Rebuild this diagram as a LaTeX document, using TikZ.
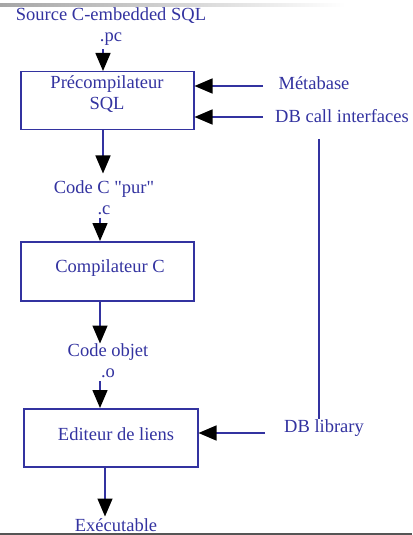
\documentclass[tikz,border=0pt]{standalone}
\usepackage{fontspec}
\setmainfont{Liberation Serif}[Ligatures=TeXOff]
\usetikzlibrary{arrows.meta}
\definecolor{ink}{RGB}{51,51,160}
\definecolor{rule}{RGB}{85,85,85}
\begin{document}
\begin{tikzpicture}[x=1bp,y=-1bp,
  txt/.style={text=ink,font=\fontsize{18.5bp}{21bp}\selectfont,inner sep=0pt,align=center},
  blk/.style={draw=ink,line width=1.5bp,minimum width=173bp,minimum height=58bp,inner sep=0pt,anchor=north west},
  arr/.style={draw=ink,line width=1.5bp,-{Triangle[length=18bp,width=15bp,color=black,fill=black]}},
  wire/.style={draw=ink,line width=1.5bp}]
\useasboundingbox (0,0) rectangle (412,535);

% slide decoration: fading top bar and bottom rule
\shade[left color=black!35,right color=white] (0,3.5) rectangle (345,6.5);
\draw[rule,line width=1.5bp] (0,534) -- (412,534);

% processing steps
\node[blk] (pre) at (20,71) {};
\node[blk,minimum height=59bp] (cc) at (20,241) {};
\node[blk,minimum width=174bp] (ld) at (23,408) {};
\node[txt] (preT) at (107,94.5) {Précompilateur\\SQL};
\node[txt] (ccT) at (110,268) {Compilateur C};
\node[txt] (ldT) at (116,434) {Editeur de liens};

% intermediate files
\node[txt] (src) at (111,27) {Source C-embedded SQL\\.pc};
\node[txt] (csrc) at (104,197.5) {Code C "pur"\\.c};
\node[txt] (obj) at (108,361) {Code objet\\.o};
\node[txt] (exe) at (116,525) {Exécutable};

% external inputs
\node[txt] (meta) at (314,83) {Métabase};
\node[txt] (dbci) at (342,116) {DB call interfaces};
\node[txt] (dblib) at (324,428) {DB library};

% x positions of the main flow and of the library bracket
\coordinate (c1) at (103,0);
\coordinate (c2) at (100,0);
\coordinate (c3) at (105,0);
\coordinate (vx) at (319,0);
\coordinate (e1) at (263,86);
\coordinate (e2) at (263,117);
\coordinate (e3) at (265,433);

\draw[arr] (src.south -| c1) ++(0,3) -- (pre.north -| c1);
\draw[arr] (pre.south -| c1) -- ++(0,43);
\draw[arr] (csrc.south -| c2) ++(0,3) -- (cc.north -| c2);
\draw[arr] (cc.south -| c2) -- ++(0,42);
\draw[arr] (obj.south -| c2) ++(0,3) -- (ld.north -| c2);
\draw[arr] (ld.south -| c3) -- ++(0,49);

\draw[arr] (e1) -- (e1 -| pre.east);
\draw[arr] (e2) -- (e2 -| pre.east);
\draw[arr] (e3) -- (e3 -| ld.east);

% library bracket on the right
\draw[wire] (dbci.south -| vx) ++(0,16) -- (dblib.north -| vx);
\end{tikzpicture}
\end{document}
